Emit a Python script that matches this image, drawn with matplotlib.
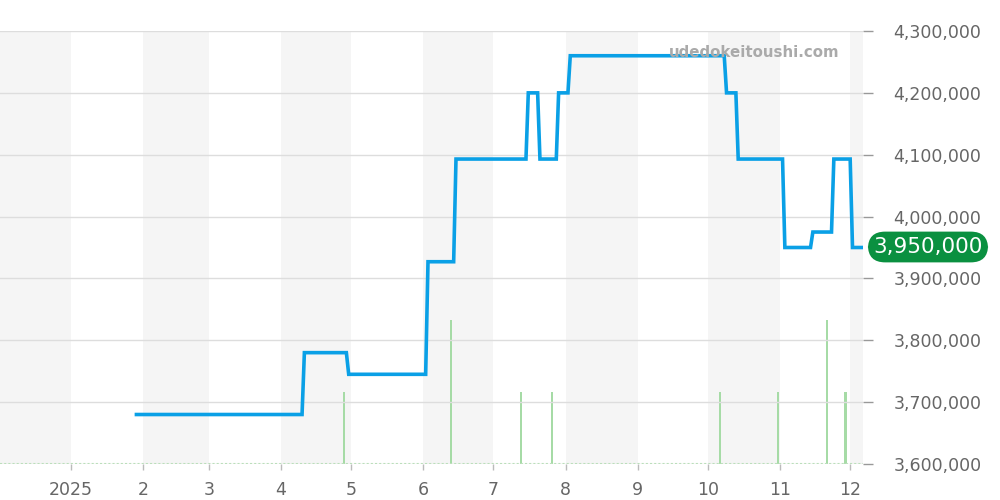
import pandas as pd
import matplotlib.pyplot as plt
import matplotlib.dates as mdates
from matplotlib.ticker import FuncFormatter

#############################################################################

# price changes (date the new price appears, price in yen)
change_dates = ['2025-01-29', '2025-04-11', '2025-04-30', '2025-06-03',
                '2025-06-15', '2025-07-16', '2025-07-21', '2025-07-29',
                '2025-08-03', '2025-10-09', '2025-10-14', '2025-11-03',
                '2025-11-15', '2025-11-24', '2025-12-02']
change_prices = [3680000, 3780000, 3745000, 3927000,
                 4093000, 4200000, 4093000, 4200000,
                 4260000, 4200000, 4093000, 3950000,
                 3975000, 4093000, 3950000]
last_date = '2025-12-06'

# number of listings sold per day
volume_dates = ['2025-04-28', '2025-06-13', '2025-07-13', '2025-07-26',
                '2025-10-06', '2025-10-31', '2025-11-21', '2025-11-29']
volume_counts = [1, 2, 1, 1, 1, 1, 2, 1]

month_starts = pd.date_range('2024-12-01', '2025-12-01', freq='MS')

#############################################################################

# daily series: hold the previous price until the day before each change
xs, ys = [], []
dates = pd.to_datetime(change_dates)
for i, (d, p) in enumerate(zip(dates, change_prices)):
    if i > 0:
        xs.append(d - pd.Timedelta(days=1))
        ys.append(change_prices[i - 1])
    xs.append(d)
    ys.append(p)
xs.append(pd.Timestamp(last_date))
ys.append(change_prices[-1])

fig = plt.figure(figsize=(10, 5), dpi=100)
vax = fig.add_axes([0.0, 0.072, 0.863, 0.866])   # back: shading + volume
ax = vax.twinx()                                 # front: price

x0 = pd.Timestamp('2024-12-01 12:00')
x1 = pd.Timestamp('2025-12-06 12:00')

# alternating month shading
for i, m in enumerate(month_starts):
    if i % 2 == 0:
        end = m + pd.offsets.MonthBegin(1)
        vax.axvspan(m, min(end, x1), color='#f5f5f5', lw=0, zorder=0)

vax.bar(pd.to_datetime(volume_dates), volume_counts, width=0.9,
        color='#a6dba6', zorder=2)
vax.plot([x0, x1], [0, 0], ls=(0, (1, 1)), color='#b3e0b3', lw=1.5, zorder=2)
vax.set_ylim(0, 6.0)
vax.set_xlim(x0, x1)
vax.set_yticks([])
for s in vax.spines.values():
    s.set_visible(False)

ax.plot(xs, ys, color='#0aa0e6', lw=2.6, solid_joinstyle='miter', zorder=3)

ax.set_xlim(x0, x1)
ax.set_ylim(3600000, 4300000)

ax.set_yticks(range(3600000, 4300001, 100000))
ax.yaxis.set_major_formatter(FuncFormatter(lambda v, _: '{:,.0f}'.format(v)))
ax.grid(axis='y', color='#dddddd', lw=1)
for s in ax.spines.values():
    s.set_visible(False)

vax.set_xticks(month_starts[1:])
vax.xaxis.set_major_formatter(FuncFormatter(
    lambda v, _: str(mdates.num2date(v).year) if mdates.num2date(v).month == 1
    else str(mdates.num2date(v).month)))
vax.tick_params(axis='x', colors='#bbbbbb', labelcolor='#666666',
                labelsize=12.5, length=4, width=1, pad=8)

ax.tick_params(axis='y', colors='#999999', labelcolor='#666666',
               labelsize=12.5, length=7, width=1, pad=15)

# watermark
ax.text(0.973, 0.95, 'udedokeitoushi.com', transform=ax.transAxes,
        ha='right', va='center', fontsize=10.8, fontweight='bold',
        color='#aaaaaa', zorder=5)

# current price badge
fig.text(0.928, 1 - 247 / 500, '{:,}'.format(change_prices[-1]),
         ha='center', va='center', fontsize=15.5, color='white',
         bbox=dict(boxstyle='round,pad=0.25,rounding_size=0.8',
                   fc='#0a9040', ec='none'))

plt.savefig('out.png')
plt.close()
